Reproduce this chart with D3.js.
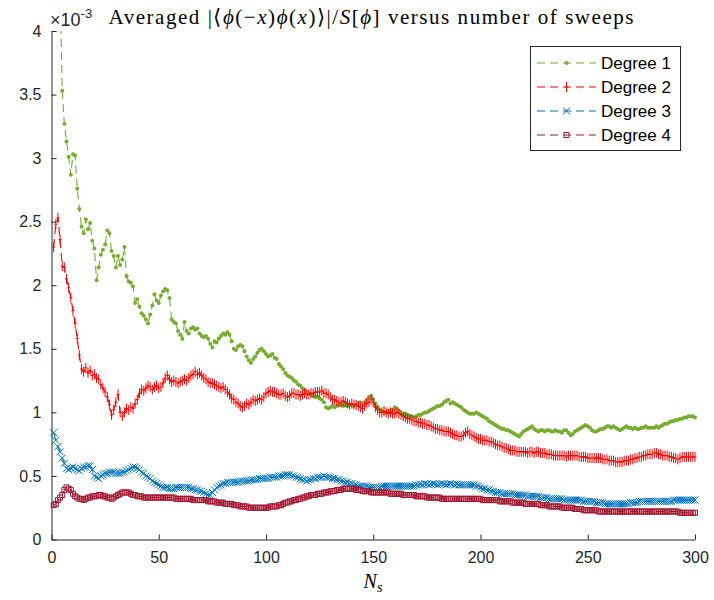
<!DOCTYPE html>
<html>
<head>
<meta charset="utf-8">
<script src="https://cdn.jsdelivr.net/npm/d3@7"></script>
<style>
  html, body { margin: 0; padding: 0; background: #fff; }
  svg { display: block; }
</style>
</head>
<body>
<svg id="chart" width="714" height="600"></svg>
<script>
// Averaged |<phi(-x)phi(x)>|/S[phi] against the number of sweeps N_s.
// Values are in units of 1e-3 (the axis carries the x10^-3 multiplier).

const sweeps = d3.range(1, 301);

const degree1 = [
  6.80, 5.80, 5.00, 4.35, 3.53, 3.27, 3.13, 3.01, 2.87, 3.03,
  3.02, 2.76, 2.60, 2.46, 2.41, 2.52, 2.44, 2.49, 2.35, 2.29,
  2.04, 2.14, 2.24, 2.28, 2.32, 2.43, 2.41, 2.27, 2.23, 2.14,
  2.23, 2.16, 2.20, 2.30, 2.07, 2.03, 2.02, 1.99, 1.86, 1.89,
  1.83, 1.78, 1.76, 1.73, 1.70, 1.77, 1.84, 1.93, 1.88, 1.86,
  1.92, 1.95, 1.97, 1.96, 1.90, 1.73, 1.71, 1.70, 1.64, 1.61,
  1.58, 1.71, 1.64, 1.62, 1.66, 1.67, 1.65, 1.66, 1.62, 1.60,
  1.59, 1.60, 1.58, 1.54, 1.51, 1.56, 1.55, 1.58, 1.60, 1.62,
  1.61, 1.63, 1.61, 1.56, 1.50, 1.49, 1.52, 1.53, 1.52, 1.48,
  1.44, 1.41, 1.39, 1.42, 1.44, 1.47, 1.49, 1.50, 1.48, 1.46,
  1.44, 1.45, 1.46, 1.43, 1.42, 1.38, 1.36, 1.34, 1.31, 1.29,
  1.28, 1.27, 1.25, 1.24, 1.22, 1.21, 1.19, 1.18, 1.16, 1.15,
  1.14, 1.13, 1.12, 1.12, 1.11, 1.10, 1.08, 1.04, 1.03, 1.04,
  1.05, 1.04, 1.05, 1.06, 1.06, 1.05, 1.06, 1.05, 1.06, 1.06,
  1.05, 1.06, 1.07, 1.08, 1.07, 1.08, 1.10, 1.12, 1.13, 1.10,
  1.07, 1.04, 1.02, 1.01, 1.00, 1.00, 1.01, 1.00, 1.02, 1.04,
  1.03, 1.01, 0.99, 0.98, 0.99, 0.98, 0.97, 0.97, 0.96, 0.97,
  0.98, 0.98, 0.99, 1.00, 1.00, 1.01, 1.02, 1.03, 1.04, 1.05,
  1.05, 1.06, 1.08, 1.09, 1.10, 1.07, 1.08, 1.07, 1.06, 1.05,
  1.04, 1.02, 1.01, 1.00, 0.99, 0.99, 0.99, 1.00, 0.99, 0.98,
  0.97, 0.96, 0.95, 0.93, 0.92, 0.91, 0.90, 0.89, 0.88, 0.87,
  0.87, 0.86, 0.86, 0.85, 0.84, 0.83, 0.82, 0.81, 0.83, 0.85,
  0.86, 0.87, 0.88, 0.89, 0.87, 0.86, 0.85, 0.86, 0.86, 0.85,
  0.86, 0.86, 0.85, 0.85, 0.86, 0.85, 0.85, 0.84, 0.86, 0.86,
  0.84, 0.82, 0.83, 0.85, 0.86, 0.87, 0.88, 0.89, 0.90, 0.89,
  0.88, 0.86, 0.85, 0.85, 0.86, 0.87, 0.87, 0.88, 0.89, 0.89,
  0.88, 0.89, 0.88, 0.87, 0.86, 0.87, 0.88, 0.89, 0.88, 0.88,
  0.87, 0.88, 0.87, 0.87, 0.88, 0.88, 0.89, 0.88, 0.88, 0.88,
  0.88, 0.89, 0.88, 0.89, 0.90, 0.91, 0.91, 0.92, 0.93, 0.93,
  0.94, 0.94, 0.95, 0.95, 0.96, 0.96, 0.97, 0.97, 0.97, 0.96
];

const degree2 = [
  2.30, 2.48, 2.53, 2.36, 2.15, 2.14, 2.05, 1.98, 1.90, 1.80,
  1.70, 1.58, 1.45, 1.34, 1.32, 1.35, 1.31, 1.33, 1.29, 1.30,
  1.27, 1.26, 1.22, 1.19, 1.16, 1.12, 1.06, 0.98, 1.02, 1.08,
  1.14, 1.00, 0.97, 1.00, 1.03, 1.02, 1.04, 1.03, 1.07, 1.10,
  1.15, 1.18, 1.17, 1.19, 1.21, 1.20, 1.18, 1.20, 1.21, 1.19,
  1.20, 1.23, 1.27, 1.29, 1.26, 1.24, 1.25, 1.24, 1.23, 1.24,
  1.25, 1.26, 1.25, 1.27, 1.29, 1.30, 1.32, 1.30, 1.31, 1.29,
  1.27, 1.26, 1.24, 1.23, 1.23, 1.22, 1.21, 1.20, 1.19, 1.20,
  1.18, 1.16, 1.14, 1.11, 1.10, 1.08, 1.07, 1.05, 1.04, 1.05,
  1.07, 1.06, 1.08, 1.10, 1.09, 1.10, 1.11, 1.10, 1.12, 1.15,
  1.16, 1.17, 1.16, 1.16, 1.15, 1.14, 1.14, 1.15, 1.13, 1.12,
  1.13, 1.15, 1.15, 1.14, 1.14, 1.13, 1.14, 1.15, 1.14, 1.14,
  1.15, 1.15, 1.16, 1.16, 1.16, 1.17, 1.15, 1.15, 1.14, 1.12,
  1.10, 1.10, 1.09, 1.08, 1.08, 1.09, 1.08, 1.07, 1.06, 1.07,
  1.06, 1.06, 1.05, 1.04, 1.03, 1.05, 1.07, 1.08, 1.10, 1.08,
  1.04, 1.02, 1.00, 1.00, 1.01, 1.00, 0.99, 1.00, 0.99, 0.99,
  1.00, 0.99, 0.98, 0.97, 0.96, 0.95, 0.95, 0.94, 0.93, 0.93,
  0.92, 0.92, 0.91, 0.91, 0.90, 0.90, 0.89, 0.88, 0.87, 0.87,
  0.86, 0.86, 0.85, 0.85, 0.85, 0.84, 0.83, 0.82, 0.82, 0.81,
  0.81, 0.82, 0.84, 0.85, 0.83, 0.82, 0.81, 0.80, 0.79, 0.79,
  0.78, 0.78, 0.78, 0.77, 0.77, 0.76, 0.75, 0.74, 0.74, 0.73,
  0.72, 0.72, 0.71, 0.70, 0.70, 0.70, 0.69, 0.69, 0.69, 0.69,
  0.69, 0.68, 0.69, 0.69, 0.68, 0.69, 0.69, 0.68, 0.68, 0.68,
  0.67, 0.67, 0.67, 0.66, 0.66, 0.66, 0.66, 0.66, 0.66, 0.65,
  0.66, 0.66, 0.66, 0.66, 0.66, 0.65, 0.65, 0.65, 0.65, 0.64,
  0.64, 0.64, 0.64, 0.64, 0.64, 0.64, 0.63, 0.63, 0.63, 0.62,
  0.62, 0.62, 0.61, 0.61, 0.61, 0.61, 0.62, 0.62, 0.62, 0.63,
  0.63, 0.64, 0.64, 0.65, 0.65, 0.66, 0.66, 0.67, 0.67, 0.67,
  0.68, 0.68, 0.67, 0.67, 0.66, 0.66, 0.66, 0.65, 0.65, 0.64,
  0.64, 0.63, 0.64, 0.65, 0.65, 0.65, 0.65, 0.65, 0.65, 0.65
];

const degree3 = [
  0.84, 0.78, 0.73, 0.69, 0.64, 0.60, 0.56, 0.55, 0.56, 0.57,
  0.56, 0.55, 0.54, 0.56, 0.57, 0.57, 0.58, 0.58, 0.55, 0.50,
  0.49, 0.48, 0.50, 0.51, 0.52, 0.52, 0.53, 0.53, 0.53, 0.52,
  0.52, 0.52, 0.53, 0.53, 0.54, 0.55, 0.56, 0.57, 0.57, 0.56,
  0.55, 0.53, 0.52, 0.50, 0.49, 0.48, 0.46, 0.45, 0.44, 0.43,
  0.42, 0.41, 0.41, 0.41, 0.40, 0.40, 0.40, 0.41, 0.41, 0.41,
  0.41, 0.41, 0.41, 0.41, 0.40, 0.40, 0.39, 0.39, 0.38, 0.38,
  0.37, 0.36, 0.35, 0.35, 0.37, 0.39, 0.41, 0.42, 0.43, 0.44,
  0.44, 0.45, 0.45, 0.45, 0.45, 0.45, 0.45, 0.46, 0.46, 0.46,
  0.46, 0.46, 0.47, 0.47, 0.47, 0.47, 0.48, 0.48, 0.48, 0.48,
  0.48, 0.49, 0.49, 0.49, 0.49, 0.50, 0.50, 0.50, 0.51, 0.51,
  0.51, 0.50, 0.50, 0.49, 0.49, 0.48, 0.47, 0.47, 0.46, 0.47,
  0.47, 0.48, 0.48, 0.49, 0.49, 0.49, 0.50, 0.49, 0.49, 0.49,
  0.48, 0.48, 0.47, 0.47, 0.46, 0.46, 0.45, 0.45, 0.44, 0.44,
  0.43, 0.43, 0.42, 0.42, 0.42, 0.42, 0.42, 0.41, 0.41, 0.41,
  0.41, 0.41, 0.41, 0.42, 0.42, 0.42, 0.42, 0.42, 0.42, 0.42,
  0.42, 0.42, 0.42, 0.42, 0.42, 0.42, 0.42, 0.42, 0.42, 0.43,
  0.43, 0.435, 0.43, 0.44, 0.435, 0.43, 0.435, 0.44, 0.435, 0.43,
  0.435, 0.44, 0.435, 0.43, 0.435, 0.44, 0.435, 0.43, 0.435, 0.43,
  0.43, 0.43, 0.43, 0.43, 0.43, 0.43, 0.43, 0.42, 0.42, 0.41,
  0.40, 0.40, 0.39, 0.39, 0.38, 0.38, 0.37, 0.37, 0.37, 0.36,
  0.36, 0.36, 0.36, 0.36, 0.36, 0.35, 0.35, 0.35, 0.35, 0.35,
  0.35, 0.34, 0.34, 0.34, 0.34, 0.34, 0.34, 0.33, 0.33, 0.33,
  0.33, 0.32, 0.32, 0.32, 0.32, 0.32, 0.32, 0.32, 0.31, 0.31,
  0.31, 0.31, 0.31, 0.31, 0.31, 0.31, 0.31, 0.30, 0.30, 0.30,
  0.30, 0.30, 0.30, 0.29, 0.29, 0.29, 0.29, 0.28, 0.28, 0.28,
  0.28, 0.28, 0.28, 0.28, 0.28, 0.28, 0.28, 0.28, 0.28, 0.29,
  0.29, 0.29, 0.29, 0.30, 0.30, 0.30, 0.30, 0.30, 0.30, 0.30,
  0.30, 0.30, 0.30, 0.30, 0.30, 0.30, 0.30, 0.30, 0.30, 0.31,
  0.31, 0.31, 0.31, 0.31, 0.31, 0.31, 0.31, 0.31, 0.31, 0.31
];

const degree4 = [
  0.27, 0.28, 0.31, 0.33, 0.35, 0.39, 0.41, 0.40, 0.39, 0.36,
  0.34, 0.33, 0.32, 0.32, 0.31, 0.32, 0.33, 0.33, 0.34, 0.34,
  0.34, 0.35, 0.35, 0.34, 0.34, 0.33, 0.33, 0.32, 0.33, 0.34,
  0.35, 0.36, 0.37, 0.37, 0.37, 0.37, 0.36, 0.35, 0.35, 0.34,
  0.34, 0.34, 0.33, 0.33, 0.33, 0.33, 0.33, 0.33, 0.33, 0.33,
  0.33, 0.33, 0.33, 0.33, 0.33, 0.33, 0.33, 0.32, 0.32, 0.32,
  0.32, 0.32, 0.32, 0.32, 0.32, 0.31, 0.31, 0.31, 0.31, 0.31,
  0.31, 0.31, 0.30, 0.30, 0.30, 0.30, 0.29, 0.29, 0.29, 0.29,
  0.28, 0.28, 0.28, 0.28, 0.27, 0.27, 0.27, 0.26, 0.26, 0.26,
  0.26, 0.25, 0.25, 0.25, 0.25, 0.25, 0.25, 0.25, 0.25, 0.25,
  0.25, 0.26, 0.26, 0.26, 0.26, 0.27, 0.27, 0.28, 0.29, 0.29,
  0.30, 0.30, 0.31, 0.31, 0.32, 0.32, 0.33, 0.33, 0.34, 0.34,
  0.35, 0.35, 0.35, 0.36, 0.36, 0.36, 0.37, 0.37, 0.37, 0.38,
  0.38, 0.38, 0.39, 0.39, 0.39, 0.40, 0.40, 0.40, 0.40, 0.40,
  0.40, 0.39, 0.39, 0.39, 0.38, 0.38, 0.38, 0.38, 0.37, 0.37,
  0.37, 0.37, 0.37, 0.37, 0.37, 0.37, 0.37, 0.36, 0.36, 0.36,
  0.36, 0.36, 0.36, 0.35, 0.35, 0.35, 0.35, 0.35, 0.35, 0.34,
  0.34, 0.34, 0.34, 0.34, 0.33, 0.33, 0.33, 0.33, 0.33, 0.33,
  0.33, 0.32, 0.32, 0.32, 0.32, 0.32, 0.32, 0.32, 0.32, 0.32,
  0.32, 0.32, 0.32, 0.32, 0.32, 0.32, 0.32, 0.32, 0.32, 0.32,
  0.31, 0.31, 0.31, 0.31, 0.31, 0.31, 0.31, 0.31, 0.30, 0.30,
  0.30, 0.30, 0.30, 0.30, 0.29, 0.29, 0.29, 0.29, 0.29, 0.29,
  0.28, 0.28, 0.28, 0.28, 0.28, 0.28, 0.28, 0.27, 0.27, 0.27,
  0.27, 0.26, 0.26, 0.26, 0.26, 0.26, 0.26, 0.25, 0.25, 0.25,
  0.25, 0.25, 0.25, 0.24, 0.24, 0.24, 0.24, 0.23, 0.23, 0.23,
  0.23, 0.23, 0.23, 0.23, 0.22, 0.22, 0.22, 0.22, 0.22, 0.22,
  0.22, 0.22, 0.22, 0.22, 0.22, 0.22, 0.22, 0.22, 0.22, 0.22,
  0.22, 0.22, 0.22, 0.22, 0.22, 0.22, 0.22, 0.22, 0.22, 0.22,
  0.22, 0.22, 0.22, 0.22, 0.22, 0.22, 0.22, 0.22, 0.22, 0.22,
  0.22, 0.22, 0.21, 0.21, 0.21, 0.21, 0.21, 0.21, 0.21, 0.21
];

const seriesNames = ["Degree 1", "Degree 2", "Degree 3", "Degree 4"];
const seriesValues = [degree1, degree2, degree3, degree4];
const seriesColors = ["#77AC30", "#FF0000", "#0072BD", "#A2142F"];
const seriesMarkers = ["dot", "bar", "cross", "square"];

const xTicks = [0, 50, 100, 150, 200, 250, 300];
const yTicks = [0, 0.5, 1, 1.5, 2, 2.5, 3, 3.5, 4];
const yTickLabels = ["0", "0.5", "1", "1.5", "2", "2.5", "3", "3.5", "4"];

const axisColor = "#262626";
const sansFont = "'Liberation Sans', Arial, Helvetica, sans-serif";
const serifFont = "'Liberation Serif', 'Times New Roman', serif";

const svg = d3.select("#chart");

const x = d3.scaleLinear().domain([0, 300]).range([51.5, 695]);
const y = d3.scaleLinear().domain([0, 4]).range([539.5, 31]);

// Clip so lines leaving the top of the axes are cut at y = 4
svg.append("defs").append("clipPath").attr("id", "plot-clip")
  .append("rect")
  .attr("x", 0).attr("y", y(4))
  .attr("width", 714).attr("height", 600 - y(4));

// Marker shapes drawn around (0,0)
function markerPath(kind) {
  switch (kind) {
    case "bar":    return "M-1.5,0H1.5M0,-5V5";
    case "cross":  return "M-3.5,-3.5L3.5,3.5M-3.5,3.5L3.5,-3.5";
    case "square": return "M-2.5,-2.5H2.5V2.5H-2.5Z";
    default:       return null;
  }
}

function drawMarker(g, kind, color, cx, cy) {
  if (kind === "dot") {
    g.append("circle").attr("cx", cx).attr("cy", cy).attr("r", 2)
      .attr("fill", color).attr("stroke", "none");
  } else {
    g.append("path")
      .attr("transform", `translate(${cx},${cy})`)
      .attr("d", markerPath(kind))
      .attr("fill", "none")
      .attr("stroke", color)
      .attr("stroke-width", 1);
  }
}

const plot = svg.append("g").attr("clip-path", "url(#plot-clip)");

const line = d3.line()
  .x((d, i) => x(sweeps[i]))
  .y(d => y(d));

seriesValues.forEach((vals, s) => {
  const g = plot.append("g").attr("class", "series");
  g.append("path")
    .datum(vals)
    .attr("d", line)
    .attr("fill", "none")
    .attr("stroke", seriesColors[s])
    .attr("stroke-width", 1.1)
    .attr("stroke-dasharray", "8,5");
  vals.forEach((v, i) => {
    if (v <= 4) drawMarker(g, seriesMarkers[s], seriesColors[s], x(sweeps[i]), y(v));
  });
});

// Axes (ticks pointing inward, no box)
const xAxis = d3.axisBottom(x)
  .tickValues(xTicks)
  .tickFormat(d3.format("d"))
  .tickSizeInner(-5)
  .tickSizeOuter(0)
  .tickPadding(12);

const yAxis = d3.axisLeft(y)
  .tickValues(yTicks)
  .tickFormat((d, i) => yTickLabels[i])
  .tickSizeInner(-5)
  .tickSizeOuter(0)
  .tickPadding(10);

const gx = svg.append("g").attr("transform", `translate(0,${y(0)})`).call(xAxis);
const gy = svg.append("g").attr("transform", `translate(${x(0)},0)`).call(yAxis);

[gx, gy].forEach(g => {
  g.select(".domain").attr("stroke", axisColor).attr("stroke-width", 1);
  g.selectAll(".tick line").attr("stroke", axisColor).attr("stroke-width", 1);
  g.selectAll(".tick text")
    .attr("fill", axisColor)
    .style("font-family", sansFont)
    .style("font-size", "16px");
});
gx.selectAll(".tick text").attr("dy", "0.71em");

// Exponent multiplier above the y axis
const expo = svg.append("text")
  .attr("x", 50).attr("y", 26)
  .attr("fill", axisColor)
  .style("font-family", sansFont)
  .style("font-size", "18px");
expo.append("tspan").text("\u00D710");
expo.append("tspan").attr("dy", -8).style("font-size", "13px").text("-3");

// Title (math typeset with italic variables)
const title = svg.append("text")
  .attr("x", 371).attr("y", 24)
  .attr("text-anchor", "middle")
  .attr("fill", "#000")
  .attr("textLength", 525)
  .attr("lengthAdjust", "spacing")
  .style("font-family", serifFont)
  .style("font-size", "21px");
const titleParts = [
  ["Averaged |\u27E8", false], ["\u03D5", true], ["(\u2212", false], ["x", true],
  [")", false], ["\u03D5", true], ["(", false], ["x", true], [")\u27E9|/", false],
  ["S", true], ["[", false], ["\u03D5", true], ["] versus number of sweeps", false]
];
titleParts.forEach(([t, it]) => {
  title.append("tspan").style("font-style", it ? "italic" : "normal").text(t);
});

// x-axis label N_s
const xlab = svg.append("text")
  .attr("x", 373).attr("y", 588)
  .attr("text-anchor", "middle")
  .attr("fill", "#000")
  .style("font-family", serifFont)
  .style("font-size", "20px")
  .style("font-style", "italic");
xlab.append("tspan").text("N");
xlab.append("tspan").attr("dy", 4).style("font-size", "14px").text("s");

// Legend
const legend = svg.append("g");
legend.append("rect")
  .attr("x", 530.5).attr("y", 46.5)
  .attr("width", 150).attr("height", 104)
  .attr("fill", "#fff")
  .attr("stroke", axisColor)
  .attr("stroke-width", 1);

seriesNames.forEach((name, s) => {
  const ly = 63 + s * 24;
  legend.append("line")
    .attr("x1", 537).attr("x2", 596)
    .attr("y1", ly).attr("y2", ly)
    .attr("stroke", seriesColors[s])
    .attr("stroke-width", 1.1)
    .attr("stroke-dasharray", "8,5");
  drawMarker(legend, seriesMarkers[s], seriesColors[s], 566.5, ly);
  legend.append("text")
    .attr("x", 601).attr("y", ly)
    .attr("dy", "0.35em")
    .attr("fill", "#000")
    .style("font-family", sansFont)
    .style("font-size", "17px")
    .text(name);
});
</script>
</body>
</html>
